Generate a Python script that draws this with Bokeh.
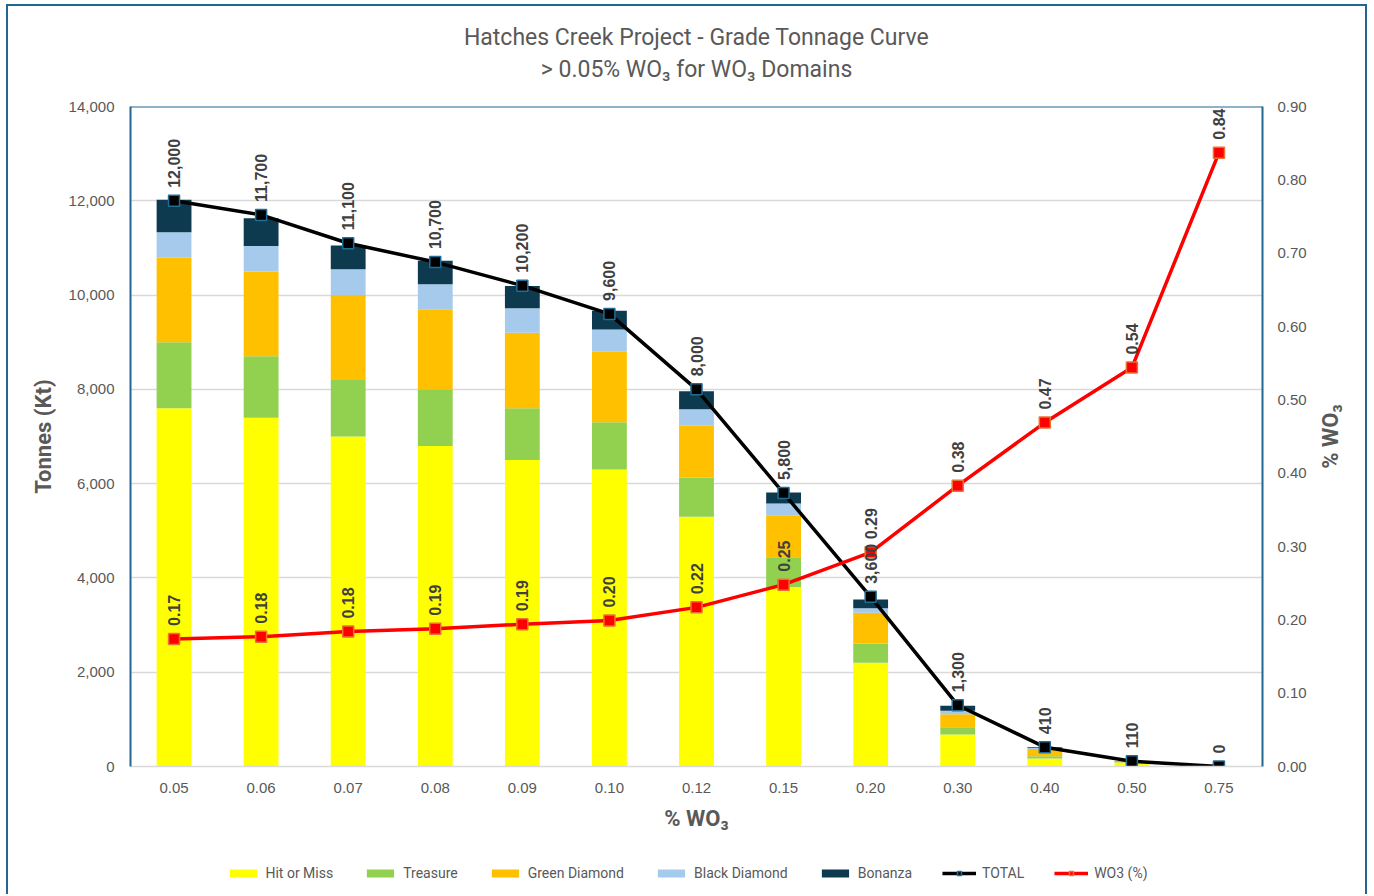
from bokeh.plotting import figure
from bokeh.layouts import row, column
from bokeh.models import (ColumnDataSource, FactorRange, Range1d, LinearAxis, FixedTicker,
                          NumeralTickFormatter, Legend, LegendItem, Title, Span)
from bokeh.core.properties import value
from bokeh.embed import file_html
from bokeh.resources import INLINE
import math

# ---------------- data ----------------
grades = ["0.05", "0.06", "0.07", "0.08", "0.09", "0.10", "0.12",
          "0.15", "0.20", "0.30", "0.40", "0.50", "0.75"]
hit_or_miss = [7600, 7400, 7000, 6800, 6500, 6300, 5300, 3800, 2200, 680, 170, 80, 0]
treasure = [1400, 1300, 1200, 1200, 1100, 1000, 830, 640, 410, 150, 50, 12, 0]
green_diamond = [1790, 1800, 1800, 1700, 1600, 1500, 1100, 890, 650, 280, 150, 12, 0]
black_diamond = [540, 540, 550, 530, 520, 470, 350, 250, 95, 70, 20, 3, 0]
bonanza = [690, 590, 500, 500, 470, 400, 380, 230, 190, 110, 20, 3, 0]
total = [12000, 11700, 11100, 10700, 10200, 9600, 8000, 5800, 3600, 1300, 410, 110, 0]
wo3_grade = [0.174, 0.177, 0.184, 0.188, 0.194, 0.199, 0.217, 0.248, 0.292, 0.383, 0.469, 0.544, 0.837]

series_names = ["Hit or Miss", "Treasure", "Green Diamond", "Black Diamond", "Bonanza"]
series_keys = ["hit", "treasure", "green", "black", "bonanza"]
series_colors = ["#FFFF00", "#92D050", "#FFC000", "#A6CAEC", "#0E3A4F"]

left_ticks = [0, 2000, 4000, 6000, 8000, 10000, 12000, 14000]
right_ticks = [0.0, 0.1, 0.2, 0.3, 0.4, 0.5, 0.6, 0.7, 0.8, 0.9]

# ---------------- styling ----------------
FRAME_BLUE = "#22678F"
GRAY_TEXT = "#595959"
LABEL_TEXT = "#404040"
TICK_FONT = "Liberation Sans"
TITLE_FONT = "Roboto"
FRAME_W, FRAME_H = 1132, 660
B_LEFT, B_RIGHT, B_TOP, B_BOTTOM = 122, 48, 100, 72
STRIP_W = 55
TOTAL_W = B_LEFT + FRAME_W + B_RIGHT + STRIP_W
LEGEND_H = 56

TOTAL_COLOR, TOTAL_EDGE = "black", "#1F6E96"
WO3_COLOR, WO3_EDGE = "#FF0000", "#E97132"

src = ColumnDataSource(dict(
    grade=grades, hit=hit_or_miss, treasure=treasure, green=green_diamond,
    black=black_diamond, bonanza=bonanza, total=total, wo3=wo3_grade,
    total_lbl=["{:,}".format(v) for v in total],
    wo3_lbl=["{:.2f}".format(v) for v in wo3_grade],
))

p = figure(x_range=FactorRange(*grades), y_range=Range1d(0, 14000),
           frame_width=FRAME_W, frame_height=FRAME_H, output_backend="svg",
           toolbar_location=None, title=None, min_border_left=B_LEFT,
           min_border_right=B_RIGHT, min_border_top=B_TOP, min_border_bottom=B_BOTTOM)
p.outline_line_color = None
p.background_fill_color = "white"
p.border_fill_color = "white"
p.x_range.range_padding = 0

p.extra_y_ranges = {"pct": Range1d(0, 0.9)}

# bars
p.vbar_stack(series_keys, x="grade", width=0.4, color=series_colors,
             line_color=None, source=src)

# TOTAL line
p.line("grade", "total", source=src, line_color=TOTAL_COLOR, line_width=3.5)
p.scatter("grade", "total", source=src, marker="square", size=11,
          fill_color=TOTAL_COLOR, line_color=TOTAL_EDGE, line_width=1.5)

# WO3 line
p.line("grade", "wo3", source=src, line_color=WO3_COLOR, line_width=3.5, y_range_name="pct")
p.scatter("grade", "wo3", source=src, marker="square", size=11,
          fill_color=WO3_COLOR, line_color=WO3_EDGE, line_width=1.5, y_range_name="pct")

# data labels
p.text("grade", "total", text="total_lbl", source=src, angle=math.pi / 2,
       text_align="left", text_baseline="middle", y_offset=-13,
       text_font=value(TICK_FONT), text_font_size="16px", text_font_style="bold",
       text_color=LABEL_TEXT)
p.text("grade", "wo3", text="wo3_lbl", source=src, angle=math.pi / 2,
       text_align="left", text_baseline="middle", y_offset=-13,
       text_font=value(TICK_FONT), text_font_size="16px", text_font_style="bold",
       text_color=LABEL_TEXT, y_range_name="pct")

# grid
p.xgrid.grid_line_color = None
p.ygrid.grid_line_color = "#D9D9D9"
p.ygrid.grid_line_width = 1.5
p.ygrid.ticker = FixedTicker(ticks=left_ticks)

# top frame edge
p.add_layout(Span(location=14000, dimension="width", line_color=FRAME_BLUE, line_width=2))

# axes
xa = p.xaxis[0]
xa.axis_line_color = "#D9D9D9"
xa.axis_line_width = 1.5
xa.major_tick_line_color = None
xa.minor_tick_line_color = None
xa.major_label_standoff = 10
xa.major_label_text_font = TICK_FONT
xa.major_label_text_font_size = "15px"
xa.major_label_text_color = GRAY_TEXT
xa.axis_label = "% WO₃"
xa.axis_label_text_font = TITLE_FONT
xa.axis_label_text_font_size = "22px"
xa.axis_label_text_font_style = "bold"
xa.axis_label_text_color = GRAY_TEXT
xa.axis_label_standoff = 10

ya = p.yaxis[0]
ya.ticker = FixedTicker(ticks=left_ticks)
ya.formatter = NumeralTickFormatter(format="0,0")
ya.axis_line_color = FRAME_BLUE
ya.axis_line_width = 2
ya.major_tick_line_color = None
ya.minor_tick_line_color = None
ya.major_label_standoff = 10
ya.major_label_text_font = TICK_FONT
ya.major_label_text_font_size = "15px"
ya.major_label_text_color = GRAY_TEXT
ya.axis_label = "Tonnes (Kt)"
ya.axis_label_text_font = TITLE_FONT
ya.axis_label_text_font_size = "22px"
ya.axis_label_text_font_style = "bold"
ya.axis_label_text_color = GRAY_TEXT
ya.axis_label_standoff = 10

ra = LinearAxis(y_range_name="pct", ticker=FixedTicker(ticks=right_ticks),
                formatter=NumeralTickFormatter(format="0.00"))
ra.axis_line_color = FRAME_BLUE
ra.axis_line_width = 2
ra.major_tick_line_color = None
ra.minor_tick_line_color = None
ra.major_label_standoff = 9
ra.major_label_text_font = TICK_FONT
ra.major_label_text_font_size = "15px"
ra.major_label_text_color = GRAY_TEXT
p.add_layout(ra, "right")

# titles (subtitle first so it sits closest to the plot)
p.add_layout(Title(text="> 0.05% WO₃ for WO₃ Domains", align="center",
                   text_font=TITLE_FONT, text_font_size="23px",
                   text_font_style="normal", text_color=GRAY_TEXT, standoff=48), "above")
p.add_layout(Title(text="Hatches Creek Project - Grade Tonnage Curve", align="center",
                   text_font=TITLE_FONT, text_font_size="23px",
                   text_font_style="normal", text_color=GRAY_TEXT, standoff=-42), "above")

# narrow strip on the right holding the secondary-axis title (reads bottom-to-top)
q = figure(frame_width=STRIP_W, frame_height=FRAME_H, x_range=Range1d(0, STRIP_W),
           y_range=Range1d(0, 1), output_backend="svg", toolbar_location=None,
           x_axis_type=None, y_axis_type=None, min_border_left=0, min_border_right=0,
           min_border_top=B_TOP, min_border_bottom=0)
q.outline_line_color = None
q.grid.visible = False
q.text(x=[20], y=[0.5], text=["% WO₃"], angle=math.pi / 2,
       text_align="center", text_baseline="middle", text_font=value(TITLE_FONT),
       text_font_size="22px", text_font_style="bold", text_color=GRAY_TEXT)

# legend strip along the bottom; key renderers hold one point outside the visible range
r = figure(frame_width=TOTAL_W, frame_height=LEGEND_H, x_range=Range1d(0, 1),
           y_range=Range1d(0, 1), output_backend="svg", toolbar_location=None,
           x_axis_type=None, y_axis_type=None, min_border=0)
r.outline_line_color = None
r.grid.visible = False
items = []
for name, col in zip(series_names, series_colors):
    kr = r.vbar(x=[-5], top=[-5], bottom=[-6], width=0.4, fill_color=col, line_color=None)
    items.append(LegendItem(label=name, renderers=[kr]))
tl = r.line(x=[-5, -4], y=[-5, -5], line_color=TOTAL_COLOR, line_width=3.5)
ts = r.scatter(x=[-5], y=[-5], marker="square", size=11, fill_color=TOTAL_COLOR,
               line_color=TOTAL_EDGE, line_width=1.5)
items.append(LegendItem(label="TOTAL", renderers=[tl, ts]))
wl = r.line(x=[-5, -4], y=[-5, -5], line_color=WO3_COLOR, line_width=3.5)
ws = r.scatter(x=[-5], y=[-5], marker="square", size=11, fill_color=WO3_COLOR,
               line_color=WO3_EDGE, line_width=1.5)
items.append(LegendItem(label="WO3 (%)", renderers=[wl, ws]))
legend = Legend(items=items, orientation="horizontal", location="bottom",
                label_text_font=TITLE_FONT, label_text_font_size="14px",
                label_text_color=GRAY_TEXT, glyph_width=34, glyph_height=10,
                label_standoff=6, spacing=30, border_line_color=None,
                background_fill_alpha=0, margin=13, padding=4)
r.add_layout(legend, "center")

layout = column(row(p, q, spacing=0), r, spacing=0)
layout.styles = {"border-left": "2px solid " + FRAME_BLUE,
                 "border-top": "2px solid " + FRAME_BLUE,
                 "border-right": "2px solid " + FRAME_BLUE,
                 "margin-left": "6px", "margin-top": "4px"}

open("out.html", "w").write(file_html(layout, INLINE))
